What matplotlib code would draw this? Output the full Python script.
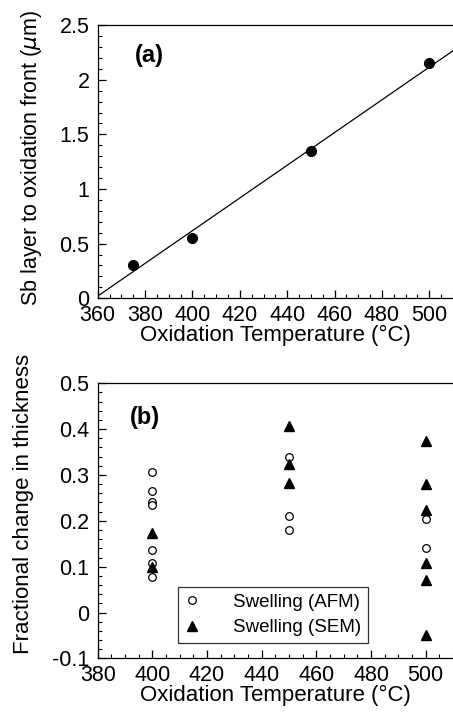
import matplotlib
matplotlib.use('Agg')

import numpy as np
import matplotlib.pyplot as plt
from matplotlib.ticker import MultipleLocator, FormatStrFormatter

plt.rcParams['font.family'] = ['Liberation Sans', 'DejaVu Sans']
plt.rcParams['axes.linewidth'] = 0.9

# Panel (a): distance of Sb layer to oxidation front
temp_a = [375, 400, 450, 500]
depth_a = [0.30, 0.55, 1.35, 2.15]
fit_temp = [360, 510]
fit_depth = [0.02, 2.265]

# Panel (b): fractional change in thickness
afm_temp = [400, 400, 400, 400, 400, 400, 400, 450, 450, 450, 500, 500]
afm_swell = [0.307, 0.264, 0.240, 0.235, 0.136, 0.107, 0.078, 0.340, 0.211, 0.179, 0.205, 0.141]
sem_temp = [400, 400, 450, 450, 450, 500, 500, 500, 500, 500, 500]
sem_swell = [0.173, 0.099, 0.407, 0.325, 0.282, 0.375, 0.280, 0.224, 0.109, 0.071, -0.048]


def style_axis(axis):
    ''' Inward ticks on left and bottom only, right spine cropped. '''
    axis.spines['right'].set_visible(False)
    axis.tick_params(which='both', direction='in', top=False, right=False,
                     labelsize=15.5)
    axis.tick_params(which='major', length=6, width=0.9)
    axis.tick_params(which='minor', length=3, width=0.8)
    axis.tick_params(axis='x', which='major', pad=5)
    axis.tick_params(axis='y', which='major', pad=6)
    axis.yaxis.set_major_formatter(FormatStrFormatter('%g'))


fig = plt.figure(figsize=(4.53, 7.17), dpi=100)

# Top panel
ax1 = fig.add_axes([0.2157, 0.584, 0.7843, 0.381])
ax1.plot(fit_temp, fit_depth, color='black', linewidth=0.9)
ax1.plot(temp_a, depth_a, 'o', color='black', markersize=7)
ax1.set_xlim(360, 510)
ax1.set_ylim(0, 2.5)
ax1.xaxis.set_major_locator(MultipleLocator(20))
ax1.xaxis.set_minor_locator(MultipleLocator(5))
ax1.yaxis.set_major_locator(MultipleLocator(0.5))
ax1.yaxis.set_minor_locator(MultipleLocator(0.1))
style_axis(ax1)
ax1.set_xlabel('Oxidation Temperature (°C)', fontsize=16, labelpad=-1)
ax1.set_ylabel(r'Sb layer to oxidation front ($\mu$m)', fontsize=15.5)
ax1.yaxis.set_label_coords(-0.15, 0.515)
ax1.text(0.105, 0.89, '(a)', transform=ax1.transAxes, fontsize=17,
         fontweight='bold', va='center', ha='left')

# Bottom panel
ax2 = fig.add_axes([0.2157, 0.0818, 0.7843, 0.3836])
ax2.plot(afm_temp, afm_swell, 'o', markerfacecolor='white',
         markeredgecolor='black', markeredgewidth=0.9, markersize=5.5,
         linestyle='none', label='Swelling (AFM)')
ax2.plot(sem_temp, sem_swell, '^', color='black', markersize=6.5,
         linestyle='none', label='Swelling (SEM)')
ax2.set_xlim(380, 510)
ax2.set_ylim(-0.1, 0.5)
ax2.xaxis.set_major_locator(MultipleLocator(20))
ax2.xaxis.set_minor_locator(MultipleLocator(5))
ax2.yaxis.set_major_locator(MultipleLocator(0.1))
ax2.yaxis.set_minor_locator(MultipleLocator(0.02))
style_axis(ax2)
ax2.set_xlabel('Oxidation Temperature (°C)', fontsize=16, labelpad=-1)
ax2.set_ylabel('Fractional change in thickness', fontsize=16)
ax2.yaxis.set_label_coords(-0.178, 0.563)
ax2.text(0.09, 0.874, '(b)', transform=ax2.transAxes, fontsize=17,
         fontweight='bold', va='center', ha='left')

leg = ax2.legend(loc='lower left', bbox_to_anchor=(0.225, 0.056),
                 fontsize=13.5, frameon=True, fancybox=False, edgecolor='black',
                 handlelength=0.8, handletextpad=1.8, borderpad=0.35,
                 labelspacing=0.45, borderaxespad=0)
leg.get_frame().set_linewidth(0.9)

fig.savefig('out.png', dpi=100)
plt.close(fig)
